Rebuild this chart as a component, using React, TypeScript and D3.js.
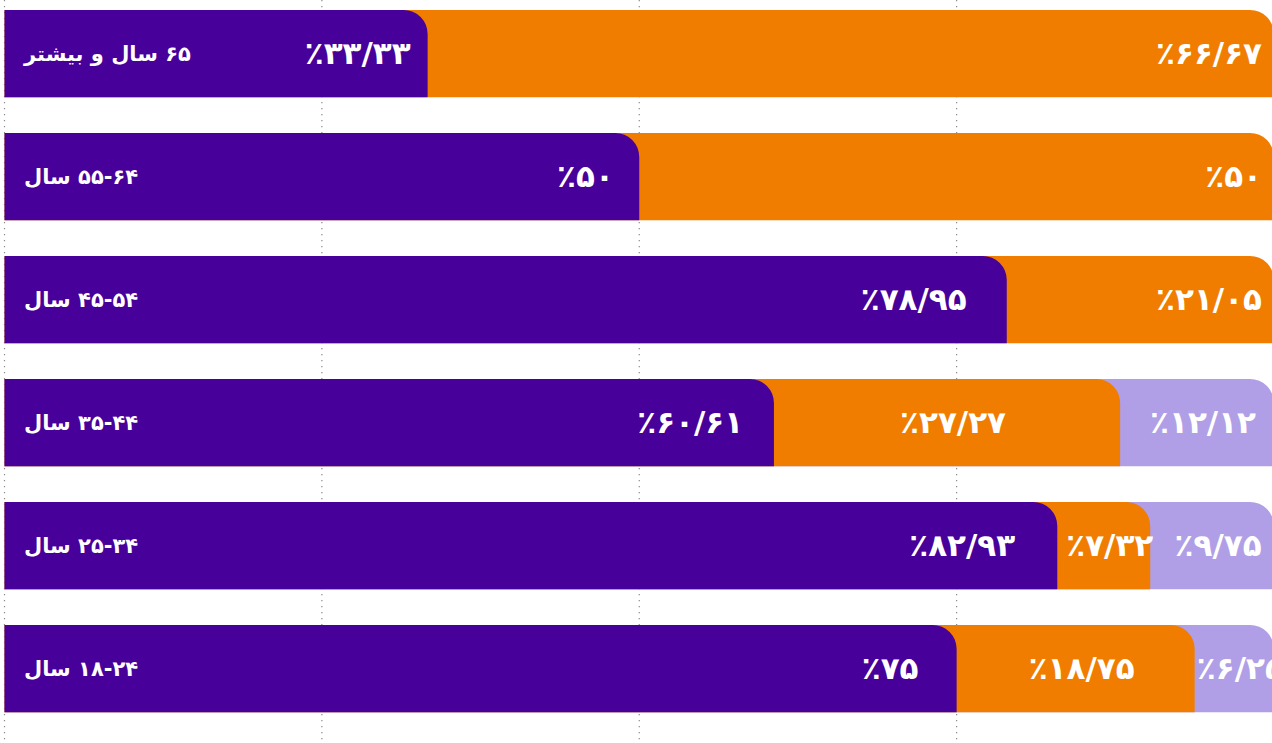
import React, { useRef, useEffect } from 'react';
import * as d3 from 'd3';

// age groups, top to bottom
const categories = ['۶۵ سال و بیشتر', '۵۵-۶۴ سال', '۴۵-۵۴ سال', '۳۵-۴۴ سال', '۲۵-۳۴ سال', '۱۸-۲۴ سال'];
// percent shares per group
const purpleValues = [33.33, 50, 78.95, 60.61, 82.93, 75];
const orangeValues = [66.67, 50, 21.05, 27.27, 7.32, 18.75];
const lavenderValues = [0, 0, 0, 12.12, 9.75, 6.25];
const gridTicks = [0, 25, 50, 75, 100];

const colors = ['#470099', '#f07d00', '#b09fe6'];

const toPersian = (s: string) =>
  s.replace(/\d/g, d => '۰۱۲۳۴۵۶۷۸۹'[+d]).replace('.', '/');

const fmt = (v: number) => '٪' + toPersian(String(v));

// rect with only the top-right corner rounded
const barPath = (x0: number, x1: number, y: number, h: number, r: number) => {
  const rr = Math.min(r, x1 - x0);
  return `M${x0},${y}H${x1 - rr}A${rr},${rr} 0 0 1 ${x1},${y + rr}V${y + h}H${x0}Z`;
};

const App: React.FC = () => {
  const svgRef = useRef<SVGSVGElement | null>(null);

  useEffect(() => {
    const svg = d3.select(svgRef.current);
    svg.selectAll('*').remove();

    const height = 743;

    const x = d3.scaleLinear().domain([0, 100]).range([4.5, 1274]);
    const y = d3.scaleBand<string>()
      .domain(categories)
      .range([10, 712.3])
      .paddingInner(0.29)
      .paddingOuter(0);
    const bw = y.bandwidth();

    // dotted vertical grid
    svg.append('g')
      .selectAll('line')
      .data(gridTicks)
      .enter()
      .append('line')
      .attr('x1', d => x(d))
      .attr('x2', d => x(d))
      .attr('y1', 0)
      .attr('y2', height)
      .attr('stroke', '#8a8a8a')
      .attr('stroke-width', 1.2)
      .attr('stroke-dasharray', '1.2,4.8');

    const rows = categories.map((c, i) => {
      const vals = [purpleValues[i], orangeValues[i], lavenderValues[i]];
      const segs = vals.filter(v => v > 0).length;
      let cum = 0;
      const parts = vals.map((v, k) => {
        const start = cum;
        cum += v;
        return { k, v, start, end: cum };
      }).filter(p => p.v > 0);
      return { c, i, segs, parts };
    });

    const rowG = svg.selectAll('g.row')
      .data(rows)
      .enter()
      .append('g')
      .attr('class', 'row');

    // layered bars: widest drawn first, so the rounded corners show the layer below
    rowG.each(function (row) {
      const g = d3.select(this);
      const y0 = y(row.c)!;
      const layers = [...row.parts].reverse();
      g.selectAll('path')
        .data(layers)
        .enter()
        .append('path')
        .attr('d', p => barPath(x(0), x(p.end), y0, bw, 24))
        .attr('fill', p => colors[p.k]);

      g.selectAll('text.val')
        .data(row.parts)
        .enter()
        .append('text')
        .attr('class', 'val')
        .attr('direction', 'ltr')
        .attr('y', y0 + bw / 2 + 10)
        .attr('fill', '#fff')
        .attr('font-family', '"DejaVu Sans", sans-serif')
        .attr('font-weight', 700)
        .attr('font-size', 31)
        .each(function (p) {
          const t = d3.select(this);
          if (p.k === 0) {
            const xe = x(0) + 0.96 * (x(p.end) - x(0));
            t.attr('x', xe).attr('text-anchor', 'end');
          } else if (row.segs === 2) {
            t.attr('x', x(p.end) - 12).attr('text-anchor', 'end');
          } else {
            t.attr('x', (x(p.start) + x(p.end)) / 2 + 6).attr('text-anchor', 'middle');
          }
        })
        .text(p => fmt(p.v));

      g.append('text')
        .attr('direction', 'rtl')
        .attr('x', 24)
        .attr('y', y0 + bw / 2 + 7)
        .attr('text-anchor', 'end')
        .attr('fill', '#fff')
        .attr('font-family', '"DejaVu Sans", sans-serif')
        .attr('font-weight', 700)
        .attr('font-size', 21)
        .text(row.c);
    });
  }, []);

  return (
    <svg
      ref={svgRef}
      width={1272}
      height={743}
      style={{ position: 'fixed', top: 0, left: 0, background: '#fff' }}
    />
  );
};

export default App;
